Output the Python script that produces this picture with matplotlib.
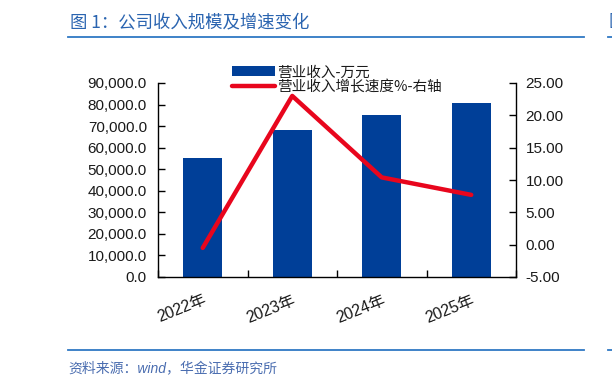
import matplotlib
matplotlib.use("Agg")
import matplotlib.pyplot as plt
from matplotlib.lines import Line2D
from matplotlib.ticker import FuncFormatter, FixedLocator

plt.rcParams['font.family'] = ['Liberation Sans', 'Noto Sans CJK SC', 'DejaVu Sans']

# ---- data ----
categories = ["2022年", "2023年", "2024年", "2025年"]
revenue = [55300, 68100, 75100, 80800]          # 营业收入-万元
growth = [-0.5, 23.0, 10.4, 7.7]                 # 营业收入增长速度%
title_text = "图 1：公司收入规模及增速变化"
source_text = "资料来源：wind，华金证券研究所"
bar_label = "营业收入-万元"
line_label = "营业收入增长速度%-右轴"
left_ticks = [0, 10000, 20000, 30000, 40000, 50000, 60000, 70000, 80000, 90000]
right_ticks = [-5, 0, 5, 10, 15, 20, 25]

W, H = 612, 386
fig = plt.figure(figsize=(W / 100, H / 100), dpi=100)
ax = fig.add_axes([158 / W, 1 - 277 / H, (516 - 158) / W, (277 - 83) / H])
ax2 = ax.twinx()

BLUE = "#003f98"
RED = "#e8061d"
TXT = "#1a1a1a"
CJK = ['Noto Sans CJK SC', 'DejaVu Sans']

x = list(range(len(categories)))
bars = ax.bar(x, revenue, width=0.44, color=BLUE, zorder=2, label=bar_label)
ln, = ax2.plot(x, growth, color=RED, lw=3.2, solid_capstyle='round', zorder=3, label=line_label)

ax.set_xlim(-0.5, len(categories) - 0.5)
ax.set_ylim(0, 90000)
ax2.set_ylim(-5, 25)

ax.yaxis.set_major_locator(FixedLocator(left_ticks))
ax.yaxis.set_major_formatter(FuncFormatter(lambda v, p: f"{v:,.1f}"))
ax2.yaxis.set_major_locator(FixedLocator(right_ticks))
ax2.yaxis.set_major_formatter(FuncFormatter(lambda v, p: f"{v:.2f}"))

ax.set_xticks(x)
ax.set_xticklabels(categories, rotation=22, ha='right', va='top', rotation_mode='anchor',
                   fontsize=11.5, color=TXT)
ax.set_xticks([i - 0.5 for i in range(len(categories) + 1)], minor=True)
ax.tick_params(axis='x', which='major', length=0, pad=11)
ax.tick_params(axis='x', which='minor', direction='in', length=5, width=1, color='black')
ax.tick_params(axis='y', direction='in', length=5, width=1, labelsize=11, pad=8, labelcolor=TXT)
ax2.tick_params(axis='y', direction='in', length=5, width=1, labelsize=11, pad=7, labelcolor=TXT)

for a in (ax, ax2):
    a.spines['top'].set_visible(False)
    for s in ('left', 'right', 'bottom'):
        a.spines[s].set_linewidth(1)
        a.spines[s].set_color('black')
ax.spines['right'].set_visible(False)
ax2.spines['left'].set_visible(False)
ax2.spines['bottom'].set_visible(False)

leg = ax.legend([bars, ln], [bar_label, line_label], loc='upper left',
                bbox_to_anchor=(225 / W, 1 - 58 / H), bbox_transform=fig.transFigure,
                frameon=False, borderpad=0, handletextpad=0.15, labelspacing=0.05,
                handlelength=2.9, prop={'family': CJK, 'size': 10.5})
for t in leg.get_texts():
    t.set_color(TXT)

# title and decoration
LINE = "#2f78c4"
fig.text(70 / W, 1 - 22 / H, title_text, fontsize=12.5, color="#2a64b0",
         family=CJK, ha='left', va='center')
fig.add_artist(Line2D([68 / W, 584 / W], [1 - 37 / H, 1 - 37 / H], color=LINE, lw=1.3))
fig.add_artist(Line2D([608 / W, 1.0], [1 - 37 / H, 1 - 37 / H], color=LINE, lw=1.3))
fig.add_artist(Line2D([68 / W, 584 / W], [1 - 350 / H, 1 - 350 / H], color=LINE, lw=1.3))
fig.add_artist(Line2D([608 / W, 1.0], [1 - 350 / H, 1 - 350 / H], color=LINE, lw=1.3))
fig.text(608 / W, 1 - 22 / H, "图", fontsize=12.5, color="#2a64b0", family=CJK,
         ha='left', va='center')
fig.text(68 / W, 1 - 369 / H, source_text, fontsize=10, color="#4a6db0",
         family=['Liberation Sans', 'Noto Sans CJK SC'], style='italic',
         ha='left', va='center')

fig.savefig("out.png", dpi=100)
